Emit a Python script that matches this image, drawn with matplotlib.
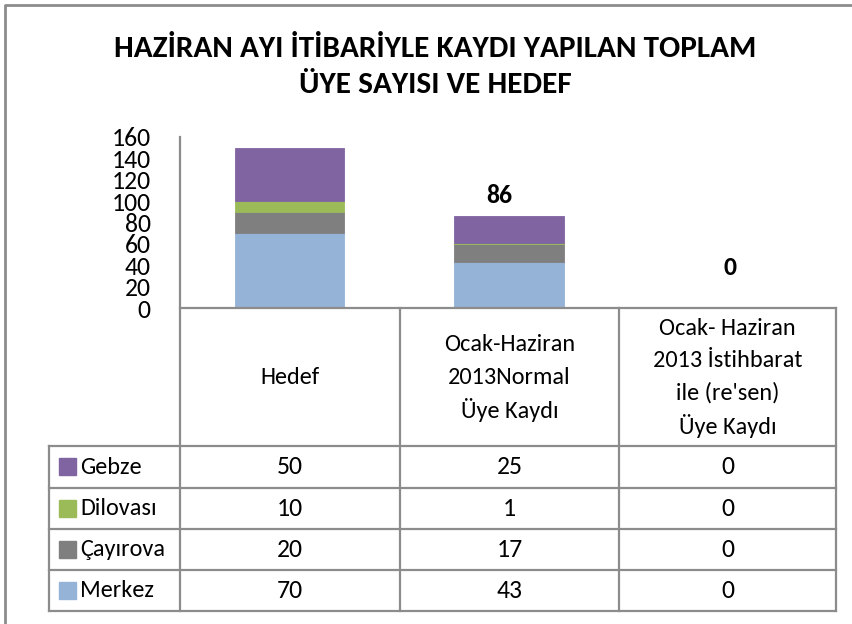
import numpy as np
import matplotlib.pyplot as plt
from matplotlib.patches import Rectangle
from matplotlib import font_manager as fm

# Calibri look-alike if present, otherwise Lato
have = set(f.name for f in fm.fontManager.ttflist)
main_font = "Carlito" if "Carlito" in have else "Lato"
plt.rcParams['font.family'] = [main_font, 'DejaVu Sans']

title = "HAZİRAN AYI İTİBARİYLE KAYDI YAPILAN TOPLAM\nÜYE SAYISI VE HEDEF"
categories = ["Hedef", "Ocak-Haziran\n2013Normal\nÜye Kaydı",
              "Ocak- Haziran\n2013 İstihbarat\nile (re'sen)\nÜye Kaydı"]
series_names = ["Merkez", "Çayırova", "Dilovası", "Gebze"]
merkez = [70, 43, 0]
cayirova = [20, 17, 0]
dilovasi = [10, 1, 0]
gebze = [50, 25, 0]
total_labels = ["", "86", "0"]
colors = ["#95B3D7", "#7F7F7F", "#9BBB59", "#8064A2"]

W, H = 853, 624
fig = plt.figure(figsize=(W / 100, H / 100), dpi=100)


def fx(px):
    return px / W


def fy(py):
    return 1 - py / H


fig.text(fx(435), fy(67), title, ha="center", va="center", fontsize=22.5,
         fontweight="bold", linespacing=1.45)

# bar axes
left, right, top, bottom = 180, 838, 137, 308
ax = fig.add_axes([fx(left), fy(bottom), fx(right) - fx(left), fy(top) - fy(bottom)])
x = np.arange(len(categories))
series = [merkez, cayirova, dilovasi, gebze]
base = np.zeros(len(categories))
for vals, c in zip(series, colors):
    # thin same-colour edge keeps the 1-unit slice visible
    ax.bar(x, vals, width=0.5, bottom=base, color=c, edgecolor=c, linewidth=0.6)
    base += np.array(vals)
for i, lab in enumerate(total_labels):
    if lab:
        off = 14.5 if base[i] > 0 else 29.5
        ax.annotate(lab, (x[i], base[i]), xytext=(-7 if base[i] > 0 else 1, off),
                    textcoords="offset points", ha="center", va="center",
                    fontsize=18.5, fontweight="bold")
ax.set_xlim(-0.5, len(categories) - 0.5)
ax.set_ylim(0, 160)
ax.set_yticks(np.arange(0, 161, 20))
ax.tick_params(axis="y", length=0, labelsize=18.5, pad=21)
ax.set_xticks([])
for s in ["top", "right", "bottom"]:
    ax.spines[s].set_visible(False)
ax.spines["left"].set_color("#8C8C8C")
ax.spines["left"].set_linewidth(1.3)
ax.patch.set_alpha(0)

# data table + chart frame, drawn in pixel coords
tab = fig.add_axes([0, 0, 1, 1])
tab.set_xlim(0, W)
tab.set_ylim(H, 0)
tab.axis("off")
tab.patch.set_alpha(0)
tab.plot([5, 5, W], [H, 5, 5], color="#8C8C8C", lw=2)

col_x = [49, 180, 400, 619, 836]
row_y = [308, 446, 488, 529, 570, 611]
lc = "#8C8C8C"
tab.plot([col_x[1], col_x[-1]], [row_y[0], row_y[0]], color=lc, lw=1.6)
for xc in col_x[1:]:
    tab.plot([xc, xc], [row_y[0] if xc != col_x[1] else top, row_y[-1]], color=lc, lw=1.6)
tab.plot([col_x[0], col_x[0]], [row_y[1], row_y[-1]], color=lc, lw=1.6)
for yr in row_y[1:]:
    tab.plot([col_x[0], col_x[-1]], [yr, yr], color=lc, lw=1.6)

step = 32.5
for j, cat in enumerate(categories):
    cx = (col_x[j + 1] + col_x[j + 2]) / 2
    lines = cat.split("\n")
    mid = (row_y[0] + row_y[1]) / 2
    for k, ln in enumerate(lines):
        tab.text(cx, mid + (k - (len(lines) - 1) / 2) * step, ln,
                 ha="center", va="center", fontsize=17.5)

rows = list(zip(series_names, series, colors))[::-1]
for r, (name, vals, c) in enumerate(rows):
    cy = (row_y[r + 1] + row_y[r + 2]) / 2
    tab.add_patch(Rectangle((59, cy - 9), 17, 17, color=c))
    tab.text(80, cy, name, ha="left", va="center", fontsize=17.5)
    for j, v in enumerate(vals):
        cx = (col_x[j + 1] + col_x[j + 2]) / 2
        tab.text(cx, cy, str(v), ha="center", va="center", fontsize=18.5)

fig.savefig("out.png", dpi=100)
